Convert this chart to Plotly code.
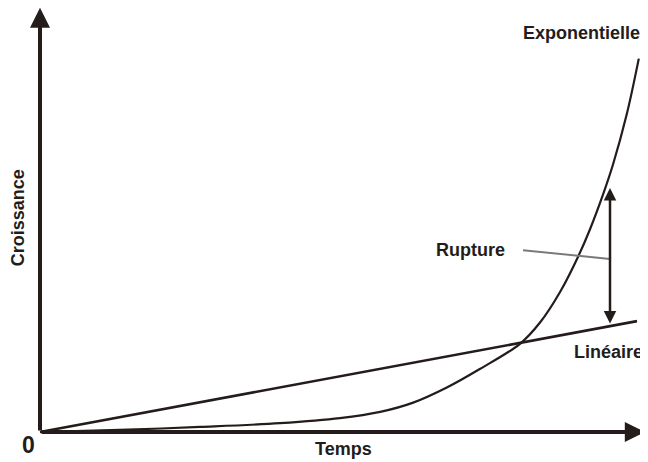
import plotly.graph_objects as go

# Data (chart units: time 0..100, growth 0..100)
time_lin = [0, 99.5]
growth_lin = [0, 26.4]

time_exp = [0, 13.3, 26.7, 40, 50, 56.7, 62.2, 67.8, 73.3, 80, 83.3, 86.7, 89.7, 91.7, 93.8, 95.5, 97.8, 99.8]
growth_exp = [0, 0.5, 1.2, 2.1, 3.3, 4.8, 7.0, 10.6, 15.0, 21.0, 26.0, 33.4, 41.8, 48.4, 56.4, 63.7, 75.7, 88.9]

rupture_t = 95.0
rupture_g = [25.5, 58.1]
rupture_leader_t = [80.5, 95.0]
rupture_leader_g = [43.3, 41.2]

INK = "#231c1a"
FONT = "Liberation Sans, Arial, sans-serif"

fig = go.Figure()
fig.add_trace(go.Scatter(x=time_lin, y=growth_lin, mode="lines",
                         line=dict(color=INK, width=2.6), hoverinfo="skip"))
fig.add_trace(go.Scatter(x=time_exp, y=growth_exp, mode="lines",
                         line=dict(color=INK, width=2.2, shape="spline", smoothing=1.0),
                         hoverinfo="skip"))
fig.add_trace(go.Scatter(x=rupture_leader_t, y=rupture_leader_g, mode="lines",
                         line=dict(color="#7a7a7a", width=2), hoverinfo="skip"))

def arrow(x0, y0, x1, y1, width, size, side="end"):
    fig.add_annotation(x=x1, y=y1, ax=x0, ay=y0, xref="x", yref="y",
                       axref="x", ayref="y", showarrow=True, arrowhead=2,
                       arrowwidth=width, arrowsize=size, arrowcolor=INK,
                       arrowside=side, text="")

# Axes with arrows
arrow(0, 0, 0, 101.0, 4, 1.0)
arrow(0, 0, 100.8, 0, 4, 1.0)
# Rupture double arrow
arrow(rupture_t, rupture_g[0], rupture_t, rupture_g[1], 2.5, 1.0, "end+start")

def label(x, y, text, size=18, angle=0):
    fig.add_annotation(x=x, y=y, xref="x", yref="y", text="<b>%s</b>" % text,
                       showarrow=False, textangle=angle,
                       font=dict(family=FONT, size=size, color=INK))

label(90.2, 95.0, "Exponentielle")
label(71.7, 43.3, "Rupture")
label(94.8, 19.0, "Linéaire")
label(50.5, -4.05, "Temps")
label(-1.9, -3.1, "0", size=23)
label(-3.75, 51.0, "Croissance", angle=-90)

# The page has an 8px body margin; the figure is sized to sit inside it.
fig.update_layout(
    width=640, height=454,
    margin=dict(l=0, r=0, t=0, b=0),
    paper_bgcolor="white", plot_bgcolor="white",
    showlegend=False,
    xaxis=dict(range=[-32/6, 608/6], visible=False, fixedrange=True),
    yaxis=dict(range=[-30/4.2, 424/4.2], visible=False, fixedrange=True),
)

fig.write_html("out.html")
